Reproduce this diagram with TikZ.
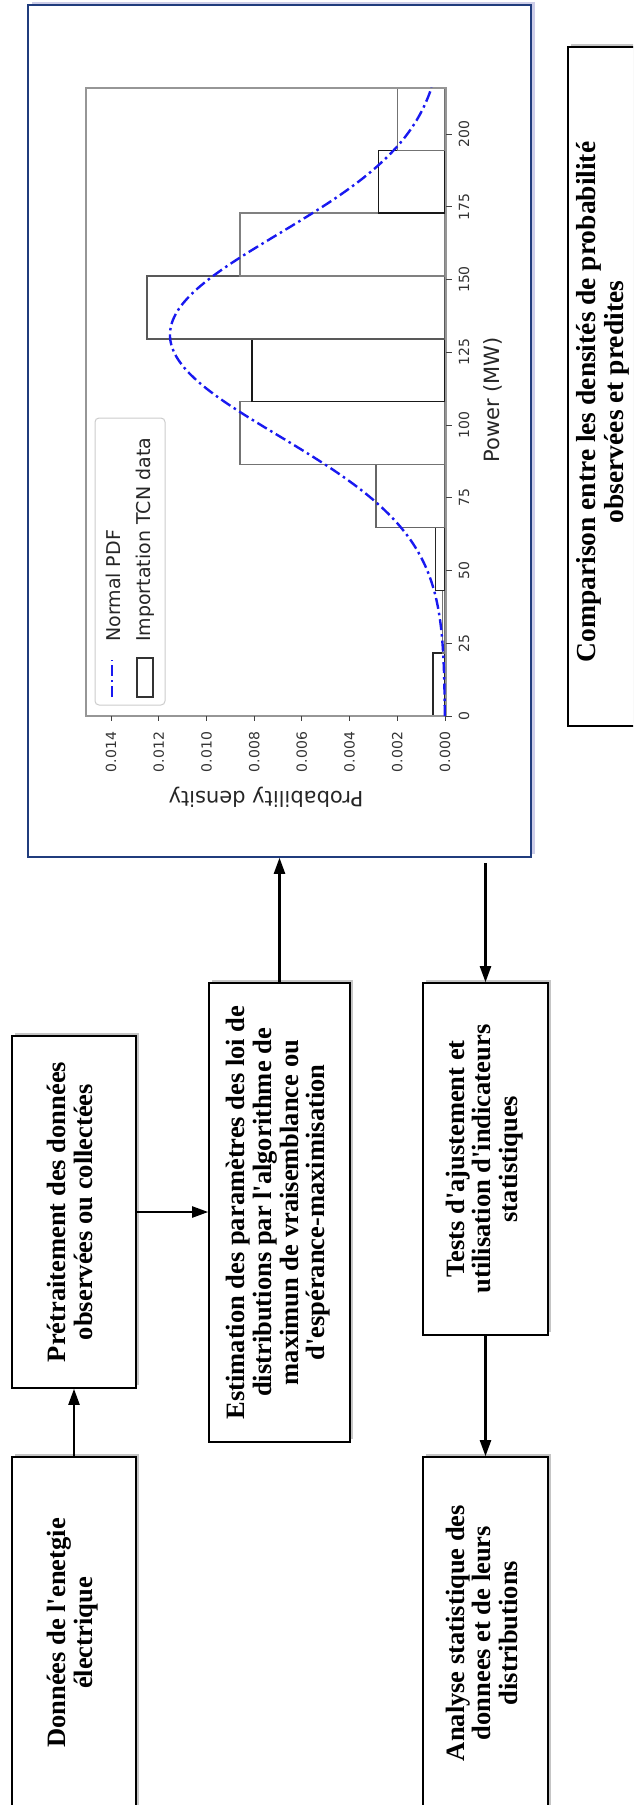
\documentclass[tikz,border=0pt]{standalone}
\usepackage{fontspec}
\usepackage{graphicx}
\usetikzlibrary{arrows.meta,shadows,calc}
\newfontfamily\boxserif{Liberation Serif}
\newfontfamily\plotsans{DejaVu Sans}
\definecolor{frameblue}{RGB}{32,60,125}
\definecolor{shadelav}{RGB}{205,205,232}
\definecolor{pdfblue}{RGB}{25,25,240}
\definecolor{axisgray}{RGB}{150,150,150}
% vertical multi-line label, read from bottom to top
\newcommand\vtext[1]{\rotatebox{90}{\begin{tabular}{@{}c@{}}#1\end{tabular}}}

\begin{document}
\begin{tikzpicture}[x=1pt,y=-1pt,
  boxtext/.style={font=\boxserif\bfseries\fontsize{26.5}{26.7}\selectfont},
  stepbox/.style={boxtext, draw=black, line width=1.6pt, fill=white, inner sep=0pt,
    drop shadow={shadow xshift=3pt, shadow yshift=3pt, fill=black!45}},
  flowarrow/.style={line width=2.2pt, -{Triangle[length=16pt,width=11pt]}},
  ticklabel/.style={font=\plotsans\fontsize{14}{16}\selectfont, text=black!80, inner sep=0pt},
  axlabel/.style={font=\plotsans\fontsize{21}{24}\selectfont, text=black!85, inner sep=0pt},
  legtext/.style={font=\plotsans\fontsize{19}{22}\selectfont, text=black!85, inner sep=0pt},
  tickline/.style={black!75, line width=1pt},
  pdfcurve/.style={pdfblue, line width=2.4pt, dash pattern=on 11pt off 4pt on 2.5pt off 4pt}
]
\useasboundingbox (0,0) rectangle (633,1805);
\clip (0,0) rectangle (633,1805);
\fill[white] (0,0) rectangle (633,1805);

% ---- figure panel with the fitted histogram ----
\node[draw=frameblue, line width=1.5pt, fill=white, inner sep=0pt,
      minimum width=503pt, minimum height=852pt,
      drop shadow={shadow xshift=4pt, shadow yshift=3pt, fill=shadelav, opacity=1}]
      (chart) at (279.5,431) {};

% histogram bars (bin width 21.6 MW, bar length in px: 0.002 density = 47.7 px)
\foreach \i/\h/\c in {0/11.9/85, 1/2.4/55, 2/9.5/85, 3/69.2/60,
                      4/205.1/55, 5/193.2/90, 6/298.1/65, 7/205.1/50,
                      8/66.8/90, 9/47.7/55}
  \draw[draw=black!\c, line width=1.4pt]
    ({445-\h},{716-62.856*(\i+1)}) rectangle (445,{716-62.856*\i});

% axes frame
\draw[axisgray, line width=1.2pt] (86,88) rectangle (446,716);

% power ticks
\foreach \p in {0,25,...,200} {
  \draw[tickline] (446,{716-2.91*\p}) -- (452,{716-2.91*\p});
  \node[ticklabel, rotate=90] (pl\p) at (464,{716-2.91*\p}) {\p};
}
% density ticks
\foreach \k/\lab in {0/0.000,1/0.002,2/0.004,3/0.006,4/0.008,5/0.010,6/0.012,7/0.014} {
  \draw[tickline] ({445-47.7*\k},716) -- ({445-47.7*\k},721);
  \node[ticklabel, rotate=90] (dl\k) at ({445-47.7*\k},752) {\lab};
}

% normal density curve
\draw[pdfcurve] plot[domain=0:216, samples=120, smooth]
  ({445-275*exp(-0.5*((\x-131)/34.6)*((\x-131)/34.6))},{716-2.91*\x});

% axis labels
\node[axlabel, rotate=90] (xlab) at (493,400) {Power (MW)};
\node[axlabel, rotate=180] (ylab) at (266,797) {Probability density};

% legend
\draw[black!20, line width=1pt, rounded corners=4pt, fill=white] (95,418) rectangle (165,705);
\draw[pdfcurve] (112,697) -- (112,660);
\draw[black!80, line width=1.3pt] (137,658) rectangle (153,697);
\node[legtext, rotate=90, anchor=west] (leg1) at (113,642) {Normal PDF};
\node[legtext, rotate=90, anchor=west] (leg2) at (145,642) {Importation TCN data};

% ---- process boxes ----
\node[stepbox, minimum width=124pt, minimum height=352pt] (pret) at (74,1212)
  {\vtext{Prétraitement des données\\observées ou collectées}};
\node[stepbox, minimum width=124pt, minimum height=352pt] (don) at (74,1633)
  {\vtext{Données de l'enetgie\\électrique}};
\node[stepbox, minimum width=141pt, minimum height=459pt] (est) at (279.5,1212.5)
  {\vtext{Estimation des paramètres des loi de\\distributions par l'algorithme de\\maximun de vraisemblance ou\\d'espérance-maximisation}};
\node[stepbox, minimum width=125pt, minimum height=352pt] (tests) at (485.5,1159)
  {\vtext{Tests d'ajustement et\\utilisation d'indicateurs\\statistiques}};
\node[stepbox, minimum width=125pt, minimum height=352pt] (ana) at (485.5,1633)
  {\vtext{Analyse statistique des\\donnees et de leurs\\distributions}};
\node[stepbox, minimum width=76pt, minimum height=679pt] (comp) at (606,386.5) {};
\node[font=\boxserif\bfseries\fontsize{27.5}{28}\selectfont, inner sep=0pt] (comptext) at (604,402)
  {\vtext{Comparison entre les densités de probabilité\\observées et predites}};

% ---- connectors ----
\draw[flowarrow] (don.north) -- (pret.south);
\draw[flowarrow] (pret.east) -- (pret.east -| est.west);
\draw[flowarrow] (est.north) -- (est.north |- chart.south);
\draw[flowarrow] ($(tests.north |- chart.south)+(0,5)$) -- (tests.north);
\draw[flowarrow] (tests.south) -- (ana.north);
\end{tikzpicture}
\end{document}
